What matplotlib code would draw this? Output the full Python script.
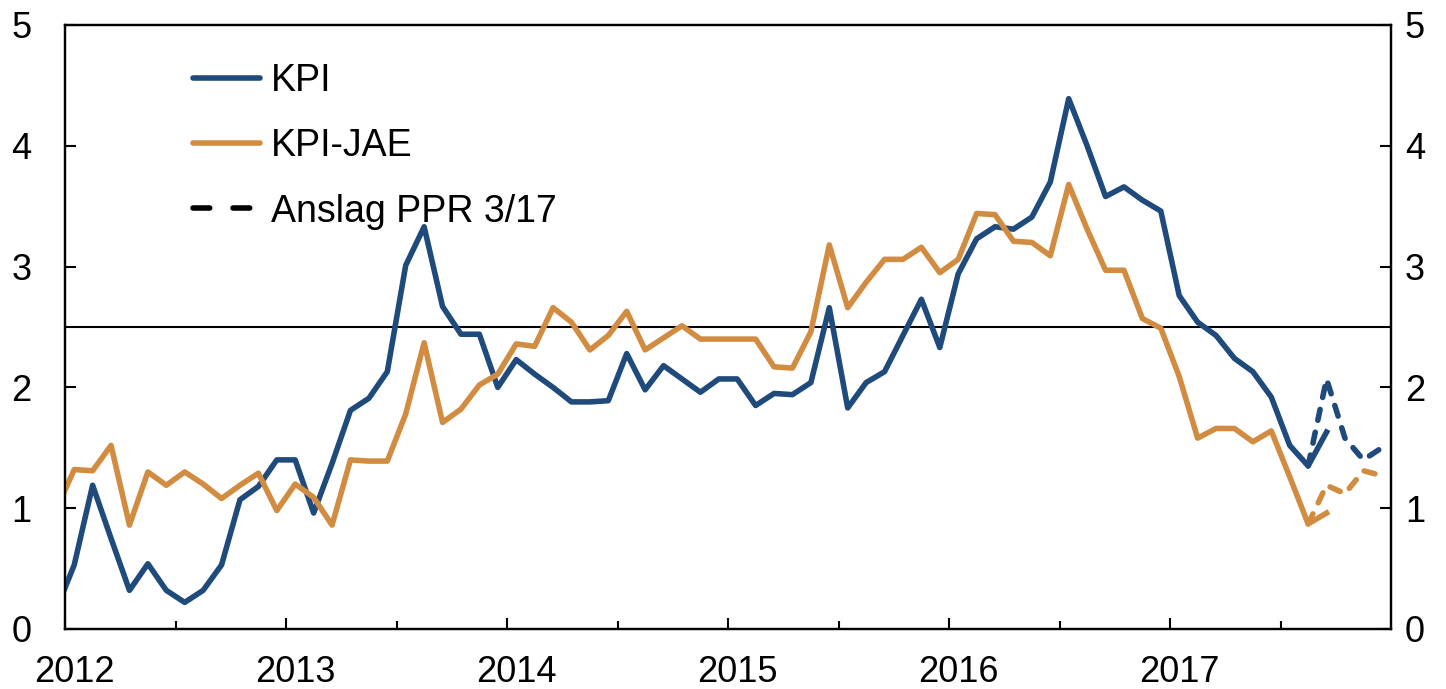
import numpy as np
import pandas as pd
import matplotlib
matplotlib.use('Agg')
import matplotlib.pyplot as plt
from matplotlib.lines import Line2D
from matplotlib.transforms import ScaledTranslation

plt.rcParams['font.family'] = ['Liberation Sans', 'DejaVu Sans']

# monthly 12-month growth, Dec 2011 - Sep 2017
months = pd.period_range('2011-12', '2017-09', freq='M')
kpi = [0.15,
       0.53, 1.19, 0.75, 0.32, 0.54, 0.32, 0.22, 0.32, 0.53, 1.07, 1.18, 1.40,
       1.40, 0.96, 1.37, 1.81, 1.91, 2.13, 3.01, 3.33, 2.67, 2.44, 2.44, 2.00,
       2.23, 2.11, 2.00, 1.88, 1.88, 1.89, 2.28, 1.98, 2.18, 2.07, 1.96, 2.07,
       2.07, 1.85, 1.95, 1.94, 2.04, 2.66, 1.83, 2.04, 2.13, 2.43, 2.73, 2.33,
       2.94, 3.23, 3.33, 3.31, 3.41, 3.70, 4.39, 4.00, 3.58, 3.66, 3.55, 3.46,
       2.76, 2.54, 2.43, 2.24, 2.13, 1.92, 1.52, 1.35, 1.63]
kpi_jae = [0.98,
           1.32, 1.31, 1.52, 0.86, 1.30, 1.19, 1.30, 1.20, 1.08, 1.19, 1.29, 0.98,
           1.20, 1.09, 0.86, 1.40, 1.39, 1.39, 1.78, 2.37, 1.71, 1.82, 2.02, 2.11,
           2.36, 2.34, 2.66, 2.54, 2.31, 2.43, 2.63, 2.31, 2.41, 2.51, 2.40, 2.40,
           2.40, 2.40, 2.17, 2.16, 2.46, 3.18, 2.66, 2.87, 3.06, 3.06, 3.16, 2.95,
           3.06, 3.44, 3.43, 3.21, 3.20, 3.09, 3.68, 3.31, 2.97, 2.97, 2.57, 2.49,
           2.09, 1.58, 1.66, 1.66, 1.55, 1.64, 1.26, 0.87, 0.96]

# forecast PPR 3/17
fc_months = pd.period_range('2017-08', '2017-12', freq='M')
kpi_fc = [1.35, 2.07, 1.58, 1.40, 1.50]
kpi_jae_fc = [0.87, 1.19, 1.12, 1.31, 1.27]

target = 2.5
years = list(range(2012, 2018))

blue = '#1f4a7c'
orange = '#d28c41'
lw = 4.0


def mid_month(periods):
    return np.array([p.year + (p.month - 0.5) / 12 for p in periods])


fig = plt.figure(figsize=(14.46, 6.89), dpi=100)
ax = fig.add_axes([65 / 1446, 60 / 689, 1326 / 1446, 604 / 689])

x = mid_month(months)
xf = mid_month(fc_months)

ax.axhline(target, color='black', lw=1.5, zorder=1)
ax.plot(xf, kpi_fc, color=blue, lw=lw, dashes=(2.0, 2.2), dash_capstyle='round', zorder=2)
ax.plot(xf, kpi_jae_fc, color=orange, lw=lw, dashes=(2.0, 2.2), dash_capstyle='round', zorder=2)
ax.plot(x, kpi, color=blue, lw=lw, zorder=3)
ax.plot(x, kpi_jae, color=orange, lw=lw, zorder=3)

ax.set_xlim(2012, 2018)
ax.set_ylim(0, 5)
ax.set_xticks(years)
ax.set_xticklabels([str(y) for y in years])
ax.set_xticks([y + 0.5 for y in years], minor=True)
ax.set_yticks(range(6))

ax.tick_params(axis='x', which='major', direction='in', length=8, width=1.5,
               labelsize=26, pad=19)
ax.tick_params(axis='x', which='minor', direction='in', length=5.8, width=1.5)
ax.tick_params(axis='y', direction='in', length=8, width=1.5, labelsize=26, pad=24)
for lab in ax.get_xticklabels():
    lab.set_transform(lab.get_transform() + ScaledTranslation(0.092, 0, fig.dpi_scale_trans))

ax2 = ax.twinx()
ax2.set_ylim(0, 5)
ax2.set_yticks(range(6))
ax2.tick_params(axis='y', direction='in', length=8, width=1.5, labelsize=26, pad=10)

for a in (ax, ax2):
    for s in a.spines.values():
        s.set_linewidth(1.6)

handles = [Line2D([], [], color=blue, lw=lw, solid_capstyle='round'),
           Line2D([], [], color=orange, lw=lw, solid_capstyle='round'),
           Line2D([], [], color='black', lw=lw, dashes=(3.0, 4.2), dash_capstyle='round')]
ax.legend(handles, ['KPI', 'KPI-JAE', 'Anslag PPR 3/17'], loc='upper left',
          bbox_to_anchor=(0.0965, 0.937), frameon=False, fontsize=27,
          borderaxespad=0, borderpad=0, handlelength=1.8, handletextpad=0.27,
          labelspacing=0.78)

fig.savefig('out.png', dpi=100)
